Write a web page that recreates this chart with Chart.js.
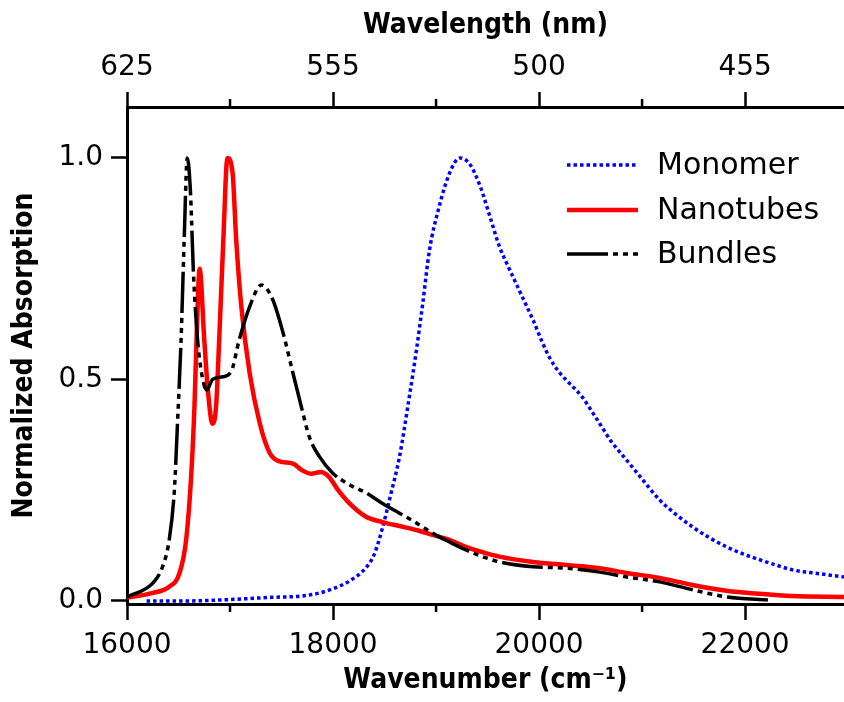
<!DOCTYPE html>
<html>
<head>
<meta charset="utf-8">
<script src="https://cdn.jsdelivr.net/npm/chart.js@4.4.1/dist/chart.umd.min.js"></script>
<style>
  html, body { margin: 0; padding: 0; background: #fff; }
</style>
</head>
<body>
<canvas id="chart" width="844" height="702"></canvas>
<script>
// spectra (wavenumber in cm-1, normalized absorption)
const monomerX = [16190, 16600, 17000, 17400, 17700, 17870, 17995, 18160, 18320, 18400, 18480, 18560, 18645, 18730, 18810, 18870, 18935, 19030, 19130, 19230, 19330, 19430, 19520, 19615, 19700, 19780, 19860, 19940, 20020, 20100, 20200, 20300, 20420, 20520, 20590, 20700, 20850, 21000, 21170, 21330, 21490, 21650, 21820, 21980, 22140, 22300, 22460, 22700, 22960];
const monomerY = [0.0, 0.0, 0.003, 0.008, 0.011, 0.018, 0.027, 0.045, 0.075, 0.105, 0.165, 0.24, 0.325, 0.445, 0.567, 0.67, 0.79, 0.89, 0.965, 1.0, 0.985, 0.935, 0.87, 0.80, 0.755, 0.715, 0.675, 0.635, 0.59, 0.55, 0.515, 0.49, 0.46, 0.425, 0.4, 0.36, 0.318, 0.275, 0.228, 0.195, 0.167, 0.143, 0.122, 0.106, 0.093, 0.081, 0.07, 0.062, 0.054];

const nanotubesX = [16000, 16250, 16410, 16510, 16575, 16625, 16655, 16675, 16705, 16750, 16785, 16830, 16865, 16895, 16935, 16975, 17025, 17060, 17110, 17190, 17290, 17385, 17480, 17610, 17700, 17790, 17880, 17960, 18050, 18160, 18320, 18480, 18645, 18810, 18965, 19130, 19290, 19450, 19615, 19940, 20265, 20590, 20850, 21170, 21490, 21820, 22140, 22460, 22960];
const nanotubesY = [0.007, 0.018, 0.032, 0.063, 0.14, 0.29, 0.44, 0.59, 0.75, 0.59, 0.476, 0.40, 0.44, 0.59, 0.815, 1.0, 0.966, 0.815, 0.664, 0.515, 0.40, 0.334, 0.315, 0.31, 0.295, 0.287, 0.291, 0.28, 0.25, 0.22, 0.19, 0.178, 0.169, 0.16, 0.149, 0.138, 0.122, 0.11, 0.1, 0.088, 0.081, 0.074, 0.063, 0.052, 0.036, 0.023, 0.016, 0.011, 0.009];

const bundlesX = [16000, 16250, 16345, 16410, 16460, 16490, 16525, 16555, 16585, 16615, 16645, 16685, 16735, 16775, 16830, 16930, 17015, 17090, 17190, 17305, 17415, 17515, 17610, 17680, 17770, 17870, 17995, 18160, 18320, 18480, 18645, 18810, 18965, 19130, 19290, 19450, 19615, 19940, 20265, 20590, 20850, 21170, 21490, 21820, 22240];
const bundlesY = [0.009, 0.04, 0.077, 0.138, 0.25, 0.40, 0.59, 0.815, 1.0, 0.928, 0.74, 0.59, 0.5, 0.476, 0.5, 0.506, 0.52, 0.59, 0.664, 0.713, 0.68, 0.605, 0.515, 0.45, 0.37, 0.325, 0.289, 0.262, 0.244, 0.22, 0.198, 0.176, 0.153, 0.133, 0.115, 0.1, 0.088, 0.077, 0.074, 0.065, 0.054, 0.043, 0.025, 0.009, 0.002];

const wavenumberTicks = [16000, 18000, 20000, 22000];
const minorTicks = [17000, 19000, 21000];
const wavelengthLabels = ['625', '555', '500', '455'];
const absorptionTicks = [0, 0.5, 1.0];

const X_MIN = 16000, X_MAX = 22960;
const Y_MIN = -0.007, Y_MAX = 1.115;

const tickFont = { family: 'DejaVu Sans', size: 28 };
const titleFont = { family: "'Liberation Sans Narrow', 'DejaVu Sans Condensed', sans-serif", size: 28, weight: 'bold' };

function pts(xs, ys) {
    return xs.map((x, i) => ({ x: x, y: ys[i] }));
}

// short unlabeled ticks between the labeled ones, on both x axes
const minorTickPlugin = {
    id: 'minorTicks',
    afterDraw(chart) {
        const ctx = chart.ctx;
        const area = chart.chartArea;
        ctx.save();
        ctx.strokeStyle = '#000';
        ctx.lineWidth = 2.5;
        minorTicks.forEach(v => {
            const px = chart.scales.x.getPixelForValue(v);
            ctx.beginPath();
            ctx.moveTo(px, area.bottom);
            ctx.lineTo(px, area.bottom + 8);
            ctx.moveTo(px, area.top);
            ctx.lineTo(px, area.top - 8);
            ctx.stroke();
        });
        ctx.restore();
    }
};

// legend sits inside the plot, top right
const legendPlugin = {
    id: 'insideLegend',
    afterDatasetsDraw(chart) {
        const ctx = chart.ctx;
        const rows = [165, 210, 254];
        chart.data.datasets.forEach((ds, i) => {
            const y = rows[i];
            ctx.save();
            ctx.strokeStyle = ds.borderColor;
            ctx.lineWidth = ds.borderWidth;
            ctx.setLineDash(ds.borderDash || []);
            ctx.beginPath();
            ctx.moveTo(567, y);
            ctx.lineTo(638, y);
            ctx.stroke();
            ctx.setLineDash([]);
            ctx.fillStyle = '#000';
            ctx.font = '30px "DejaVu Sans"';
            ctx.textBaseline = 'middle';
            ctx.fillText(ds.label, 657, y + 1);
            ctx.restore();
        });
    }
};

new Chart(document.getElementById('chart'), {
    type: 'line',
    data: {
        datasets: [
            {
                label: 'Monomer',
                data: pts(monomerX, monomerY),
                borderColor: '#0000ff',
                borderWidth: 3.5,
                borderDash: [3.5, 3],
                order: 3
            },
            {
                label: 'Nanotubes',
                data: pts(nanotubesX, nanotubesY),
                borderColor: '#ff0000',
                borderWidth: 4.5,
                order: 2
            },
            {
                label: 'Bundles',
                data: pts(bundlesX, bundlesY),
                borderColor: '#000000',
                borderWidth: 3.5,
                borderDash: [41, 5, 5, 5, 5, 5, 5, 5],
                order: 1
            }
        ]
    },
    options: {
        responsive: false,
        animation: false,
        layout: { padding: 0 },
        elements: {
            point: { radius: 0 },
            line: { cubicInterpolationMode: 'monotone', fill: false }
        },
        plugins: {
            legend: { display: false },
            tooltip: { enabled: false }
        },
        scales: {
            x: {
                type: 'linear',
                position: 'bottom',
                min: X_MIN,
                max: X_MAX,
                afterBuildTicks: s => { s.ticks = wavenumberTicks.map(v => ({ value: v })); },
                afterFit: s => { s.height = 98; },
                ticks: {
                    color: '#000',
                    font: tickFont,
                    padding: 9,
                    maxRotation: 0,
                    callback: v => String(v)
                },
                grid: {
                    drawOnChartArea: false,
                    tickLength: 16,
                    tickWidth: 2.5,
                    tickColor: '#000'
                },
                border: { color: '#000', width: 3 },
                title: {
                    display: true,
                    text: 'Wavenumber (cm\u207B\u00B9)',
                    color: '#000',
                    font: titleFont,
                    padding: { top: 0, bottom: 4 }
                }
            },
            x2: {
                type: 'linear',
                position: 'top',
                min: X_MIN,
                max: X_MAX,
                afterBuildTicks: s => { s.ticks = wavenumberTicks.map(v => ({ value: v })); },
                afterFit: s => { s.height = 107; },
                ticks: {
                    color: '#000',
                    font: tickFont,
                    padding: 7,
                    maxRotation: 0,
                    callback: (v, i) => wavelengthLabels[i]
                },
                grid: {
                    drawOnChartArea: false,
                    tickLength: 15,
                    tickWidth: 2.5,
                    tickColor: '#000'
                },
                border: { color: '#000', width: 3 },
                title: {
                    display: true,
                    text: 'Wavelength (nm)',
                    color: '#000',
                    font: titleFont,
                    padding: { top: 9, bottom: 0 }
                }
            },
            y: {
                type: 'linear',
                min: Y_MIN,
                max: Y_MAX,
                afterBuildTicks: s => { s.ticks = absorptionTicks.map(v => ({ value: v })); },
                afterFit: s => { s.width = 127; },
                ticks: {
                    color: '#000',
                    font: tickFont,
                    padding: 8,
                    callback: v => v.toFixed(1)
                },
                grid: {
                    drawOnChartArea: false,
                    tickLength: 16,
                    tickWidth: 2.5,
                    tickColor: '#000'
                },
                border: { color: '#000', width: 3 },
                title: {
                    display: true,
                    text: 'Normalized Absorption',
                    color: '#000',
                    font: titleFont,
                    padding: { top: 8, bottom: 0 }
                }
            }
        }
    },
    plugins: [minorTickPlugin, legendPlugin]
});
</script>
</body>
</html>
